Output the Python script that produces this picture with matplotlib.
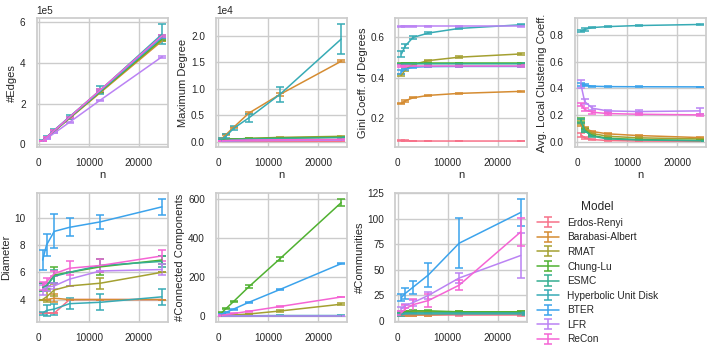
import numpy as np
import matplotlib
matplotlib.use("Agg")
import matplotlib.pyplot as plt
import seaborn as sns

# Graph sizes
n_values = [768, 1536, 3072, 6144, 12288, 24576]

models = ["Erdos-Renyi", "Barabasi-Albert", "RMAT", "Chung-Lu", "ESMC",
          "Hyperbolic Unit Disk", "BTER", "LFR", "ReCon"]

# #Edges (mean, sd)
edges_mean = {
    "Erdos-Renyi": [16500, 33000, 65500, 131000, 262000, 523000],
    "Barabasi-Albert": [15800, 31700, 63500, 127000, 254000, 508000],
    "RMAT": [16000, 32000, 64500, 129000, 257000, 514000],
    "Chung-Lu": [16200, 32500, 65000, 130000, 259000, 518000],
    "ESMC": [16800, 33500, 67000, 133000, 266000, 532000],
    "Hyperbolic Unit Disk": [17000, 34000, 68500, 135000, 266000, 541000],
    "BTER": [16500, 33000, 66000, 132000, 263000, 526000],
    "LFR": [13500, 27000, 54000, 108000, 217000, 430000],
    "ReCon": [17000, 33500, 67000, 133500, 267000, 533000],
}
edges_sd = {
    "Erdos-Renyi": [300, 500, 800, 1500, 2500, 4000],
    "Barabasi-Albert": [100, 200, 300, 500, 800, 1000],
    "RMAT": [800, 1200, 2000, 3000, 5000, 8000],
    "Chung-Lu": [500, 800, 1500, 2000, 3500, 6000],
    "ESMC": [500, 800, 1500, 2500, 4000, 7000],
    "Hyperbolic Unit Disk": [2000, 4000, 7000, 10000, 20000, 50000],
    "BTER": [400, 600, 1000, 1800, 3000, 5000],
    "LFR": [300, 500, 900, 1500, 2500, 3500],
    "ReCon": [500, 800, 1500, 2500, 4000, 6000],
}

# Maximum degree
maxdeg_mean = {
    "Erdos-Renyi": [35, 40, 45, 48, 52, 56],
    "Barabasi-Albert": [600, 1300, 2700, 5400, 8900, 15200],
    "RMAT": [250, 350, 450, 600, 800, 1000],
    "Chung-Lu": [300, 380, 480, 580, 700, 850],
    "ESMC": [200, 280, 380, 480, 600, 750],
    "Hyperbolic Unit Disk": [500, 1000, 2500, 4500, 8900, 19400],
    "BTER": [100, 150, 200, 250, 300, 350],
    "LFR": [80, 100, 130, 170, 220, 280],
    "ReCon": [150, 200, 250, 300, 350, 400],
}
maxdeg_sd = {
    "Erdos-Renyi": [3, 3, 3, 3, 3, 3],
    "Barabasi-Albert": [50, 80, 120, 150, 250, 200],
    "RMAT": [20, 30, 40, 50, 60, 80],
    "Chung-Lu": [30, 30, 40, 40, 50, 60],
    "ESMC": [20, 30, 30, 40, 50, 60],
    "Hyperbolic Unit Disk": [200, 400, 400, 800, 1500, 2800],
    "BTER": [10, 10, 20, 20, 20, 30],
    "LFR": [10, 10, 10, 20, 20, 20],
    "ReCon": [20, 20, 30, 30, 30, 40],
}

# Gini coefficient of degrees
gini_mean = {
    "Erdos-Renyi": [0.086, 0.086, 0.085, 0.085, 0.085, 0.085],
    "Barabasi-Albert": [0.272, 0.285, 0.300, 0.312, 0.322, 0.332],
    "RMAT": [0.412, 0.440, 0.465, 0.485, 0.502, 0.518],
    "Chung-Lu": [0.472, 0.472, 0.472, 0.472, 0.472, 0.472],
    "ESMC": [0.468, 0.469, 0.469, 0.469, 0.469, 0.469],
    "Hyperbolic Unit Disk": [0.518, 0.558, 0.600, 0.622, 0.645, 0.663],
    "BTER": [0.428, 0.443, 0.452, 0.455, 0.456, 0.456],
    "LFR": [0.655, 0.655, 0.655, 0.655, 0.655, 0.655],
    "ReCon": [0.457, 0.457, 0.457, 0.457, 0.457, 0.457],
}
gini_sd = {
    "Erdos-Renyi": [0.002, 0.002, 0.002, 0.002, 0.002, 0.002],
    "Barabasi-Albert": [0.004, 0.004, 0.003, 0.003, 0.003, 0.003],
    "RMAT": [0.006, 0.006, 0.005, 0.004, 0.004, 0.003],
    "Chung-Lu": [0.002, 0.002, 0.002, 0.002, 0.002, 0.002],
    "ESMC": [0.002, 0.002, 0.002, 0.002, 0.002, 0.002],
    "Hyperbolic Unit Disk": [0.015, 0.012, 0.008, 0.006, 0.004, 0.003],
    "BTER": [0.008, 0.006, 0.004, 0.003, 0.002, 0.002],
    "LFR": [0.004, 0.004, 0.004, 0.004, 0.004, 0.004],
    "ReCon": [0.004, 0.004, 0.004, 0.004, 0.004, 0.004],
}

# Average local clustering coefficient
clust_mean = {
    "Erdos-Renyi": [0.05, 0.03, 0.015, 0.008, 0.004, 0.002],
    "Barabasi-Albert": [0.13, 0.10, 0.075, 0.058, 0.045, 0.03],
    "RMAT": [0.15, 0.095, 0.06, 0.04, 0.028, 0.02],
    "Chung-Lu": [0.16, 0.085, 0.045, 0.025, 0.015, 0.008],
    "ESMC": [0.155, 0.08, 0.04, 0.02, 0.012, 0.006],
    "Hyperbolic Unit Disk": [0.828, 0.84, 0.855, 0.862, 0.87, 0.878],
    "BTER": [0.43, 0.425, 0.415, 0.412, 0.411, 0.41],
    "LFR": [0.43, 0.30, 0.25, 0.23, 0.225, 0.23],
    "ReCon": [0.28, 0.24, 0.22, 0.21, 0.205, 0.20],
}
clust_sd = {
    "Erdos-Renyi": [0.015, 0.008, 0.004, 0.002, 0.001, 0.001],
    "Barabasi-Albert": [0.01, 0.006, 0.005, 0.004, 0.003, 0.003],
    "RMAT": [0.015, 0.01, 0.006, 0.004, 0.003, 0.002],
    "Chung-Lu": [0.015, 0.01, 0.006, 0.004, 0.003, 0.002],
    "ESMC": [0.015, 0.01, 0.006, 0.004, 0.003, 0.002],
    "Hyperbolic Unit Disk": [0.01, 0.008, 0.006, 0.004, 0.003, 0.002],
    "BTER": [0.01, 0.005, 0.004, 0.003, 0.002, 0.002],
    "LFR": [0.03, 0.02, 0.015, 0.01, 0.008, 0.02],
    "ReCon": [0.012, 0.01, 0.01, 0.008, 0.006, 0.005],
}

# Diameter
diam_mean = {
    "Erdos-Renyi": [3.0, 3.0, 3.0, 4.0, 4.0, 4.0],
    "Barabasi-Albert": [4.0, 4.0, 4.1, 4.0, 4.0, 4.0],
    "RMAT": [4.0, 4.2, 4.7, 5.0, 5.2, 6.0],
    "Chung-Lu": [4.9, 5.0, 5.8, 6.0, 6.4, 6.9],
    "ESMC": [4.9, 5.0, 5.7, 6.0, 6.5, 6.8],
    "Hyperbolic Unit Disk": [3.0, 3.2, 3.3, 3.7, 3.8, 4.2],
    "BTER": [6.9, 8.0, 9.0, 9.3, 9.7, 10.8],
    "LFR": [4.7, 4.9, 5.0, 5.5, 6.1, 6.2],
    "ReCon": [5.0, 5.3, 5.9, 6.3, 6.5, 7.2],
}
diam_sd = {
    "Erdos-Renyi": [0.0, 0.0, 0.0, 0.0, 0.0, 0.0],
    "Barabasi-Albert": [0.0, 0.0, 0.3, 0.0, 0.0, 0.0],
    "RMAT": [0.0, 0.4, 0.45, 0.0, 0.4, 0.0],
    "Chung-Lu": [0.3, 0.2, 0.6, 0.0, 0.6, 0.3],
    "ESMC": [0.3, 0.0, 0.5, 0.0, 0.5, 0.4],
    "Hyperbolic Unit Disk": [0.1, 0.4, 0.4, 0.4, 0.6, 0.6],
    "BTER": [0.7, 0.8, 1.25, 0.65, 0.5, 0.6],
    "LFR": [0.4, 0.3, 0.2, 0.5, 0.0, 0.4],
    "ReCon": [0.3, 0.3, 0.2, 0.5, 0.5, 0.4],
}

# Connected components
cc_mean = {
    "Erdos-Renyi": [1, 1, 1, 1, 1, 1],
    "Barabasi-Albert": [1, 1, 1, 1, 1, 1],
    "RMAT": [2, 3, 5, 10, 25, 60],
    "Chung-Lu": [18, 37, 74, 150, 292, 581],
    "ESMC": [1, 1, 1, 1, 1, 1],
    "Hyperbolic Unit Disk": [1, 1, 1, 1, 2, 2],
    "BTER": [9, 18, 35, 70, 135, 268],
    "LFR": [1, 1, 1, 1, 1, 1],
    "ReCon": [3, 6, 12, 24, 48, 97],
}
cc_sd = {
    "Erdos-Renyi": [0, 0, 0, 0, 0, 0],
    "Barabasi-Albert": [0, 0, 0, 0, 0, 0],
    "RMAT": [1, 1, 2, 2, 3, 4],
    "Chung-Lu": [3, 4, 5, 8, 10, 20],
    "ESMC": [0, 0, 0, 0, 0, 0],
    "Hyperbolic Unit Disk": [0, 0, 0, 1, 1, 1],
    "BTER": [1, 2, 3, 3, 4, 4],
    "LFR": [0, 0, 0, 0, 0, 0],
    "ReCon": [1, 1, 1, 2, 2, 2],
}

# Communities
comm_mean = {
    "Erdos-Renyi": [6, 6, 6, 6, 6, 6],
    "Barabasi-Albert": [6, 6, 6, 6, 7, 7],
    "RMAT": [8, 9, 9, 9, 9, 9],
    "Chung-Lu": [8, 9, 10, 10, 9, 9],
    "ESMC": [7, 8, 8, 8, 8, 8],
    "Hyperbolic Unit Disk": [6, 7, 7, 7, 7, 7],
    "BTER": [23, 27, 33, 45, 76, 106],
    "LFR": [12, 15, 18, 25, 42, 64],
    "ReCon": [8, 12, 16, 20, 35, 87],
}
comm_sd = {
    "Erdos-Renyi": [1, 1, 1, 1, 1, 1],
    "Barabasi-Albert": [1, 1, 1, 1, 1, 1],
    "RMAT": [1, 1, 1, 1, 1, 1],
    "Chung-Lu": [1, 1, 1, 1, 1, 1],
    "ESMC": [1, 1, 1, 1, 1, 1],
    "Hyperbolic Unit Disk": [1, 1, 1, 1, 1, 1],
    "BTER": [3, 5, 6.5, 12, 24.5, 13.5],
    "LFR": [2, 2, 3, 3, 5, 22],
    "ReCon": [2, 4, 6, 6.5, 5, 14],
}

panels = [
    ("#Edges", edges_mean, edges_sd, True),
    ("Maximum Degree", maxdeg_mean, maxdeg_sd, True),
    ("Gini Coeff. of Degrees", gini_mean, gini_sd, False),
    ("Avg. Local Clustering Coeff.", clust_mean, clust_sd, False),
    ("Diameter", diam_mean, diam_sd, False),
    ("#Connected Components", cc_mean, cc_sd, False),
    ("#Communities", comm_mean, comm_sd, False),
]

sns.set_theme(style="whitegrid")
plt.rcParams['font.family'] = ['Liberation Sans', 'DejaVu Sans']
colors = sns.color_palette("husl", len(models))

fig, axes = plt.subplots(2, 4, figsize=(7.14, 3.46), dpi=100)
fig.subplots_adjust(left=0.0514, right=0.9888, top=0.947, bottom=0.070,
                    wspace=0.368, hspace=0.353)

handles = []
for ax, (ylabel, means, sds, sci) in zip(axes.flat, panels):
    for model, c in zip(models, colors):
        h = ax.errorbar(n_values, means[model], yerr=sds[model], color=c,
                        lw=1.1, capsize=3, capthick=1.1, label=model)
        if ylabel == "#Edges":
            handles.append(h)
    ax.set_xlabel("n", fontsize=8, labelpad=1)
    ax.set_ylabel(ylabel, fontsize=8, labelpad=2)
    ax.set_xticks([0, 10000, 20000])
    ax.tick_params(labelsize=7.2, pad=2)
    if sci:
        ax.ticklabel_format(axis='y', style='sci', scilimits=(0, 0))
        ax.yaxis.get_offset_text().set_fontsize(7.2)

axes[1, 3].axis("off")
fig.legend(handles, models, title="Model", loc="upper left",
           bbox_to_anchor=(0.746, 0.43), frameon=False, fontsize=7.3,
           title_fontsize=8.6, handlelength=2.2, handletextpad=0.8,
           labelspacing=0.45, borderaxespad=0)

plt.savefig("out.png", dpi=100)
